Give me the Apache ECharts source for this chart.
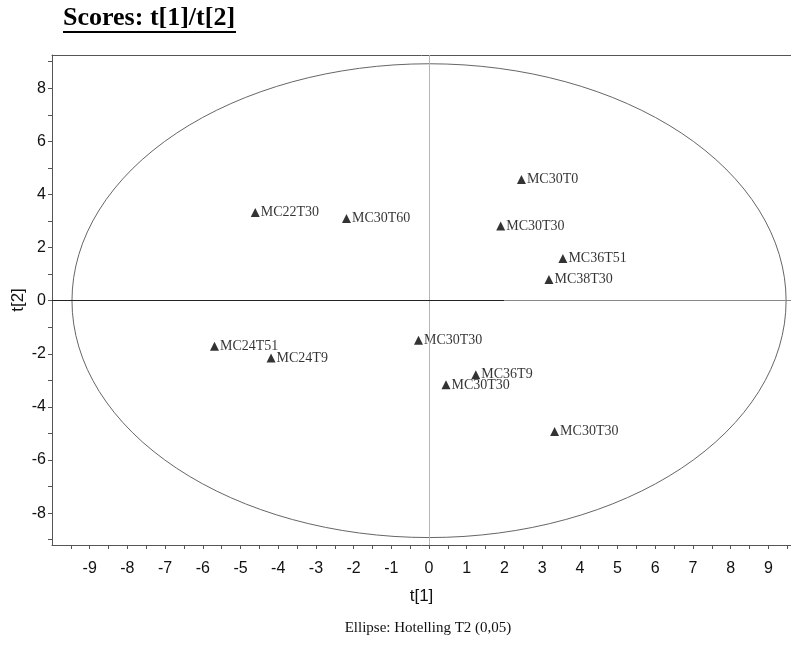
<!DOCTYPE html>
<html>
<head>
<meta charset="utf-8">
<script src="https://cdn.jsdelivr.net/npm/echarts@6/dist/echarts.min.js"></script>
<style>
html,body{margin:0;padding:0;background:#fff;}
#chart{width:791px;height:650px;}
</style>
</head>
<body>
<div id="chart"></div>
<script>
// ---- data ----
var sampleNames = ['MC30T0','MC22T30','MC30T60','MC30T30','MC36T51','MC38T30','MC24T51','MC24T9','MC30T30','MC36T9','MC30T30','MC30T30'];
var t1Values = [2.45, -4.61, -2.19, 1.90, 3.55, 3.18, -5.69, -4.19, -0.28, 1.24, 0.45, 3.33];
var t2Values = [4.56, 3.32, 3.09, 2.81, 1.59, 0.80, -1.72, -2.16, -1.49, -2.79, -3.17, -4.93];
var xTickLabels = [-9,-8,-7,-6,-5,-4,-3,-2,-1,0,1,2,3,4,5,6,7,8,9];
var yTickLabels = [-8,-6,-4,-2,0,2,4,6,8];
var xMinorTicks = [-9.5,-9,-8.5,-8,-7.5,-7,-6.5,-6,-5.5,-5,-4.5,-4,-3.5,-3,-2.5,-2,-1.5,-1,-0.5,0,0.5,1,1.5,2,2.5,3,3.5,4,4.5,5,5.5,6,6.5,7,7.5,8,8.5,9,9.5];
var yMinorTicks = [-9,-8,-7,-6,-5,-4,-3,-2,-1,0,1,2,3,4,5,6,7,8,9];
var ellipseSemiAxes = [9.47, 8.92]; // Hotelling T2 (0.05) semi-axes in t[1], t[2]

var points = sampleNames.map(function(n, i){ return {name: n, value: [t1Values[i], t2Values[i]]}; });

var chart = echarts.init(document.getElementById('chart'), null, {renderer: 'canvas'});
var axisColor = '#555';
var option = {
  animation: false,
  backgroundColor: '#fff',
  grid: {left: 52, right: 0, top: 55, bottom: 105, containLabel: false, outerBoundsMode: 'none'},
  xAxis: [{
    type: 'value', min: -10, max: 9.6, position: 'bottom',
    name: 't[1]', nameLocation: 'middle', nameGap: 43, nameMoveOverlap: false,
    nameTextStyle: {fontFamily: 'Liberation Sans', fontSize: 17, color: '#111'},
    axisLine: {show: true, onZero: false, lineStyle: {color: axisColor, width: 1}},
    axisTick: {show: true, length: 4, customValues: xMinorTicks, lineStyle: {color: axisColor}},
    axisLabel: {customValues: xTickLabels, fontFamily: 'Liberation Sans', fontSize: 16, color: '#111', margin: 16},
    splitLine: {show: false}
  }, {
    type: 'value', min: -10, max: 9.6, position: 'top',
    axisLine: {show: true, onZero: false, lineStyle: {color: axisColor, width: 1}},
    axisTick: {show: false}, axisLabel: {show: false}, splitLine: {show: false}
  }],
  yAxis: [{
    type: 'value', min: -9.2, max: 9.25,
    name: 't[2]', nameLocation: 'middle', nameGap: 25, nameRotate: 90, nameMoveOverlap: false,
    nameTextStyle: {fontFamily: 'Liberation Sans', fontSize: 17, color: '#111'},
    axisLine: {show: true, onZero: false, lineStyle: {color: axisColor, width: 1}},
    axisTick: {show: true, length: 4, customValues: yMinorTicks, lineStyle: {color: axisColor}},
    axisLabel: {customValues: yTickLabels, fontFamily: 'Liberation Sans', fontSize: 16, color: '#111', margin: 6},
    splitLine: {show: false}
  }],
  graphic: [
    {type: 'text', x: 63, y: 5, style: {text: 'Scores: t[1]/t[2]', font: 'bold 26px "Liberation Serif"', fill: '#000'}},
    {type: 'rect', x: 63, y: 31, shape: {width: 173, height: 2}, style: {fill: '#000'}},
    {type: 'text', x: 428, y: 621, style: {text: 'Ellipse: Hotelling T2 (0,05)', font: '15px "Liberation Serif"', fill: '#111', textAlign: 'center'}}
  ],
  series: [
    {
      type: 'custom',
      silent: true,
      data: [[0, 0, ellipseSemiAxes[0], ellipseSemiAxes[1]]],
      renderItem: function(params, api){
        var c = api.coord([api.value(0), api.value(1)]);
        var rx = api.coord([api.value(0) + api.value(2), api.value(1)])[0] - c[0];
        var ry = c[1] - api.coord([api.value(0), api.value(1) + api.value(3)])[1];
        var d = 'M' + (c[0]-rx) + ' ' + c[1] +
          ' A' + rx + ' ' + ry + ' 0 1 0 ' + (c[0]+rx) + ' ' + c[1] +
          ' A' + rx + ' ' + ry + ' 0 1 0 ' + (c[0]-rx) + ' ' + c[1] + ' Z';
        return {type: 'path', shape: {pathData: d}, style: {fill: 'none', stroke: '#666', lineWidth: 1}};
      },
      z: 1
    },
    {
      type: 'line',
      silent: true,
      data: [],
      markLine: {
        silent: true, symbol: 'none', label: {show: false},
        data: [
          [{coord: [0, -9.2], lineStyle: {color: '#b5b5b5', width: 1, type: 'solid'}}, {coord: [0, 9.25]}],
          [{coord: [-10, 0], lineStyle: {color: '#222', width: 1, type: 'solid'}}, {coord: [2, 0]}],
          [{coord: [2, 0], lineStyle: {color: '#888', width: 1, type: 'solid'}}, {coord: [9.6, 0]}]
        ]
      },
      z: 1
    },
    {
      type: 'scatter',
      data: points,
      symbol: 'triangle',
      symbolSize: 9,
      itemStyle: {color: '#000'},
      label: {
        show: true, position: 'right', distance: 1,
        formatter: function(p){ return p.name; },
        fontFamily: 'Liberation Serif', fontSize: 14, color: '#000'
      },
      z: 3
    }
  ]
};
chart.setOption(option);
</script>
</body>
</html>
